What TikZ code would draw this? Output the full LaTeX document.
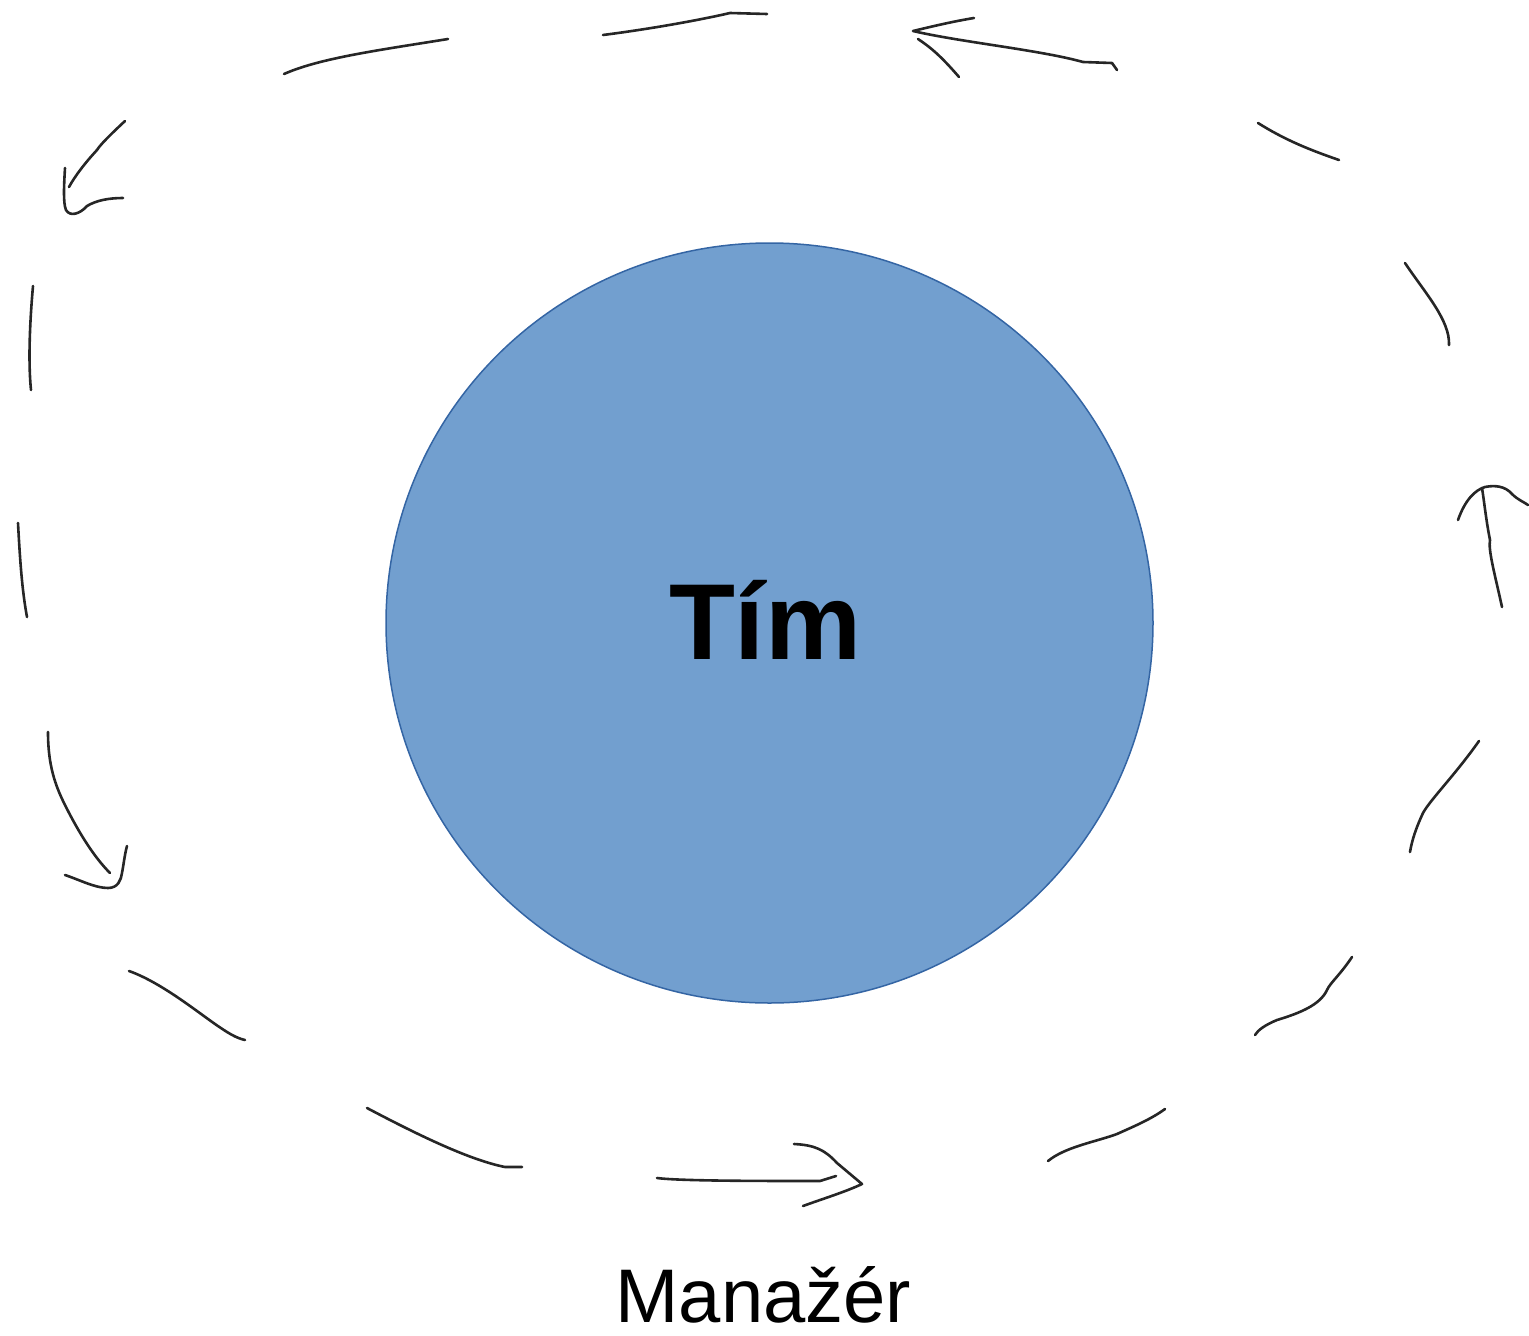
\documentclass[tikz,border=0pt]{standalone}
\usepackage{fontspec}
\setmainfont{Liberation Sans}
\definecolor{teamfill}{HTML}{729FCF}
\definecolor{teamline}{HTML}{3465A4}
\usetikzlibrary{shapes.geometric}
\tikzset{
  hand/.style={draw=black!85, line width=2.6pt, line cap=round, line join=round},
  teamcircle/.style={ellipse, fill=teamfill, draw=teamline, line width=1.5pt,
    minimum width=767pt, minimum height=760pt, inner sep=0pt},
}
\begin{document}
\begin{tikzpicture}[x=1pt,y=-1pt]
\useasboundingbox (0,0) rectangle (1529,1336);
% team circle
\node[teamcircle] (team) at (769.5,623) {};
\node[font=\bfseries\fontsize{108}{120}\selectfont, anchor=base, inner sep=0pt, text depth=0pt] (tim) at (765,659) {Tím};
% label
\node[font=\fontsize{76}{90}\selectfont, anchor=base, inner sep=0pt, text depth=0pt] (manazer) at (763.5,1322) {Manažér};

% hand-drawn dashed loop
% top segments
\draw[hand] (284,74) .. controls (320,58) and (380,50) .. (448,39);
\draw[hand] (603,35) .. controls (650,29) and (700,20) .. (730,13) -- (767,14);
% top arrow (pointing left)
\draw[hand] (974,18) .. controls (950,22) and (930,27) .. (913,31)
  .. controls (960,42) and (1040,50) .. (1083,62) -- (1112,63) -- (1117,70);
\draw[hand] (918,39) .. controls (930,47) and (940,55) .. (959,77);
% upper right
\draw[hand] (1258,123) .. controls (1285,140) and (1310,150) .. (1339,160);
\draw[hand] (1405,263) .. controls (1425,293) and (1450,320) .. (1449,345);
% right arrow (pointing up)
\draw[hand] (1502,607) .. controls (1495,575) and (1488,550) .. (1490,540) .. controls (1486,520) and (1484,500) .. (1482,488);
\draw[hand] (1458,520) .. controls (1465,500) and (1475,490) .. (1485,487)
  .. controls (1495,485) and (1505,486) .. (1512,494) .. controls (1518,500) and (1524,502) .. (1528,505);
% lower right
\draw[hand] (1479,741) .. controls (1455,775) and (1430,800) .. (1423,813) .. controls (1416,828) and (1412,840) .. (1410,852);
\draw[hand] (1352,957) .. controls (1340,975) and (1330,983) .. (1327,990)
  .. controls (1320,1005) and (1300,1013) .. (1277,1020) .. controls (1265,1025) and (1258,1030) .. (1255,1035);
\draw[hand] (1165,1109) .. controls (1150,1120) and (1130,1128) .. (1117,1134)
  .. controls (1095,1142) and (1065,1147) .. (1048,1161);
% bottom arrow (pointing right)
\draw[hand] (657,1178) .. controls (680,1181) and (760,1181) .. (820,1181) -- (836,1176);
\draw[hand] (794,1144) .. controls (815,1145) and (825,1150) .. (837,1163)
  -- (862,1184) .. controls (845,1192) and (825,1198) .. (803,1206);
% bottom left
\draw[hand] (367,1108) .. controls (420,1136) and (470,1160) .. (505,1167) -- (522,1167);
\draw[hand] (129,971) .. controls (160,982) and (195,1010) .. (215,1024) .. controls (228,1033) and (236,1038) .. (245,1040);
% left arrow (pointing down)
\draw[hand] (48,732) .. controls (48,765) and (55,785) .. (65,805) .. controls (80,835) and (95,858) .. (110,873);
\draw[hand] (65,875) .. controls (80,880) and (95,888) .. (108,888)
  .. controls (118,888) and (121,880) .. (122,873) .. controls (124,862) and (125,853) .. (127,846);
% left verticals
\draw[hand] (18,523) .. controls (20,560) and (22,590) .. (27,617);
\draw[hand] (33,286) .. controls (30,320) and (28,360) .. (31,390);
% upper left arrow (pointing down-left)
\draw[hand] (125,121) .. controls (110,135) and (100,145) .. (97,150) .. controls (85,163) and (75,176) .. (69,187);
\draw[hand] (65,168) .. controls (64,185) and (63,203) .. (66,210)
  .. controls (70,217) and (80,214) .. (87,206) .. controls (97,200) and (110,198) .. (123,198);
\end{tikzpicture}
\end{document}
